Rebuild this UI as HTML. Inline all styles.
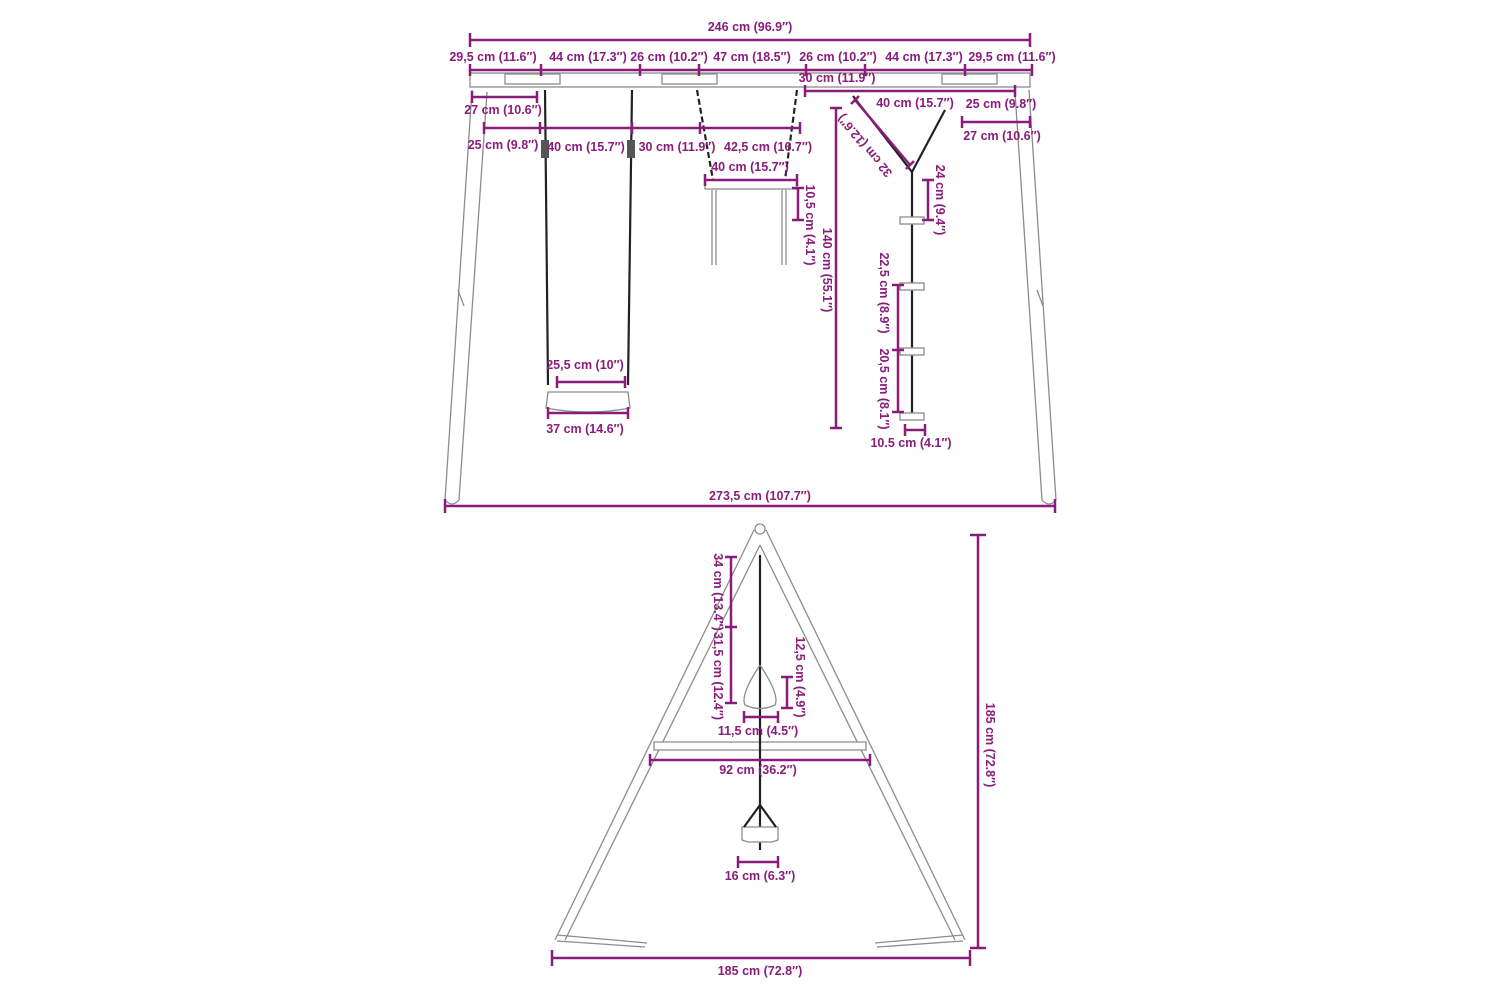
<!DOCTYPE html>
<html><head><meta charset="utf-8"><style>
html,body{margin:0;padding:0;background:#fff}
svg{display:block}
text{font-family:"Liberation Sans",sans-serif;font-weight:bold;font-size:12.5px;fill:#8a1c7c;text-anchor:middle}
.d{stroke:#8a1c7c;stroke-width:2.5;fill:none}
.g{stroke:#8c8c8c;stroke-width:1.3;fill:none}
.gf{stroke:#8c8c8c;stroke-width:1.3;fill:#fff}
.r{stroke:#222;stroke-width:2.2;fill:none}
</style></head><body>
<svg width="1500" height="1000" viewBox="0 0 1500 1000" xmlns="http://www.w3.org/2000/svg">
<!-- TOP FRAME -->
<rect class="gf" x="470" y="73" width="560" height="14"/>
<rect class="gf" x="505" y="74" width="55" height="10"/>
<rect class="gf" x="662" y="74" width="55" height="10"/>
<rect class="gf" x="942" y="74" width="55" height="10"/>
<path class="g" d="M472 90 L445 500 M487 92 L459 500 M445 500 Q452 508 459 500"/>
<path class="g" d="M1015 92 L1042 500 M1029 90 L1056 500 M1042 500 Q1049 508 1056 500"/>
<path class="g" d="M458 290 l6 16 M1037 290 l6 16"/>
<!-- swing -->
<path class="r" d="M545 90 L548 385 M632 90 L628 385"/>
<path class="gf" d="M548 392 L628 392 L630 408 Q588 416 546 408 Z"/>
<rect x="541" y="140" width="8" height="18" fill="#555"/><rect x="627" y="140" width="8" height="18" fill="#555"/>
<!-- trapeze -->
<path class="r" stroke-dasharray="6 3" d="M697 90 L713 180 M797 90 L785 180"/>
<rect class="gf" x="705" y="180" width="92" height="9"/>
<path class="g" d="M712 190 V265 M716 190 V265 M782 190 V265 M786 190 V265"/>
<!-- rope ladder -->
<path class="r" stroke="#444" d="M853 96 L912 172 M945 110 L912 172 M912 172 V420"/>
<rect class="gf" x="900" y="217" width="24" height="7"/>
<rect class="gf" x="900" y="283" width="24" height="7"/>
<rect class="gf" x="900" y="348" width="24" height="7"/>
<rect class="gf" x="900" y="413" width="24" height="7"/>
<!-- TOP DIMENSIONS -->
<path class="d" d="M470 40 H1030 M470 33 V47 M1030 33 V47"/>
<text x="750" y="31">246 cm (96.9″)</text>
<path class="d" d="M470 70 H1032 M470 64 V76 M541 64 V76 M640 64 V76 M699 64 V76 M806 64 V76 M865 64 V76 M965 64 V76 M1032 64 V76"/>
<text x="493" y="61">29,5 cm (11.6″)</text><text x="588" y="61">44 cm (17.3″)</text>
<text x="669" y="61">26 cm (10.2″)</text><text x="752" y="61">47 cm (18.5″)</text>
<text x="838" y="61">26 cm (10.2″)</text><text x="924" y="61">44 cm (17.3″)</text>
<text x="1012" y="61">29,5 cm (11.6″)</text>
<path class="d" d="M472 97 H537 M472 91 V103 M537 91 V103"/><text x="503" y="114">27 cm (10.6″)</text>
<path class="d" d="M805 91 H1015 M805 85 V97 M1015 85 V97"/><text x="837" y="82">30 cm (11.9″)</text>
<text x="1001" y="108">25 cm (9.8″)</text><text x="915" y="107">40 cm (15.7″)</text>
<path class="d" d="M962 122 H1030 M962 116 V128 M1030 116 V128"/><text x="1002" y="140">27 cm (10.6″)</text>
<path class="d" d="M484 128 H800 M484 122 V134 M540 122 V134 M632 122 V134 M700 122 V134 M800 122 V134"/>
<text x="503" y="149">25 cm (9.8″)</text><text x="586" y="151">40 cm (15.7″)</text>
<text x="677" y="151">30 cm (11.9″)</text><text x="768" y="151">42,5 cm (16.7″)</text>
<path class="d" d="M855 100 L910 165 M851 104 L859 96 M906 169 L914 161"/>
<text transform="translate(868 143) rotate(230)">32 cm (12.6″)</text>
<path class="d" d="M836 108 V428 M830 108 H842 M830 428 H842"/>
<text transform="translate(823 270) rotate(90)">140 cm (55.1″)</text>
<path class="d" d="M705 180 H797 M705 174 V186 M797 174 V186"/><text x="750" y="171">40 cm (15.7″)</text>
<path class="d" d="M798 188 V220 M792 188 H804 M792 220 H804"/><text transform="translate(806 225) rotate(90)">10,5 cm (4.1″)</text>
<path class="d" d="M928 180 V220 M922 180 H934 M922 220 H934"/><text transform="translate(936 200) rotate(90)">24 cm (9.4″)</text>
<path class="d" d="M898 285 V350 M892 285 H904 M898 350 V412 M892 350 H904 M892 412 H904"/>
<text transform="translate(880 293) rotate(90)">22,5 cm (8.9″)</text>
<text transform="translate(880 389) rotate(90)">20,5 cm (8.1″)</text>
<path class="d" d="M905 430 H925 M905 424 V436 M925 424 V436"/><text x="911" y="447">10.5 cm (4.1″)</text>
<path class="d" d="M557 382 H625 M557 376 V388 M625 376 V388"/><text x="585" y="369">25,5 cm (10″)</text>
<path class="d" d="M548 413 H628 M548 407 V419 M628 407 V419"/><text x="585" y="433">37 cm (14.6″)</text>
<path class="d" d="M445 506 H1055 M445 499 V513 M1055 499 V513"/><text x="760" y="500">273,5 cm (107.7″)</text>
<!-- BOTTOM A-FRAME -->
<circle class="gf" cx="760" cy="529" r="5"/>
<path class="g" d="M754 530 L555 940 M766 530 L965 940 M760 545 L565 940 M760 545 L955 940"/>
<path class="gf" d="M654 742 L866 742 L866 750 L654 750 Z"/>
<path class="g" d="M557 935 L647 943 M557 941 L645 947 M963 935 L875 943 M963 941 L877 947"/>
<path class="r" d="M760 555 V850"/>
<path class="g" d="M760 665 Q740 695 745 705 Q760 712 775 705 Q780 695 760 665"/>
<path class="gf" d="M742 827 L778 827 L778 840 L772 842 L748 842 L742 840 Z"/>
<path class="r" stroke-width="1.5" d="M760 805 L744 827 M760 805 L776 827"/>
<!-- BOTTOM DIMENSIONS -->
<path class="d" d="M978 535 V948 M970 535 H986 M970 948 H986"/><text transform="translate(986 745) rotate(90)">185 cm (72.8″)</text>
<path class="d" d="M552 958 H970 M552 950 V966 M970 950 V966"/><text x="760" y="975">185 cm (72.8″)</text>
<path class="d" d="M650 760 H870 M650 754 V766 M870 754 V766"/><text x="758" y="774">92 cm (36.2″)</text>
<path class="d" d="M738 862 H778 M738 856 V868 M778 856 V868"/><text x="760" y="880">16 cm (6.3″)</text>
<path class="d" d="M744 717 H778 M744 711 V723 M778 711 V723"/><text x="758" y="735">11,5 cm (4.5″)</text>
<path class="d" d="M787 677 V708 M781 677 H793 M781 708 H793"/><text transform="translate(796 677) rotate(90)">12,5 cm (4.9″)</text>
<path class="d" d="M731 557 V703 M725 557 H737 M725 627 H737 M725 703 H737"/>
<text transform="translate(714 592) rotate(90)">34 cm (13.4″)</text>
<text transform="translate(714 676) rotate(90)">31,5 cm (12.4″)</text>
</svg>
</body></html>
